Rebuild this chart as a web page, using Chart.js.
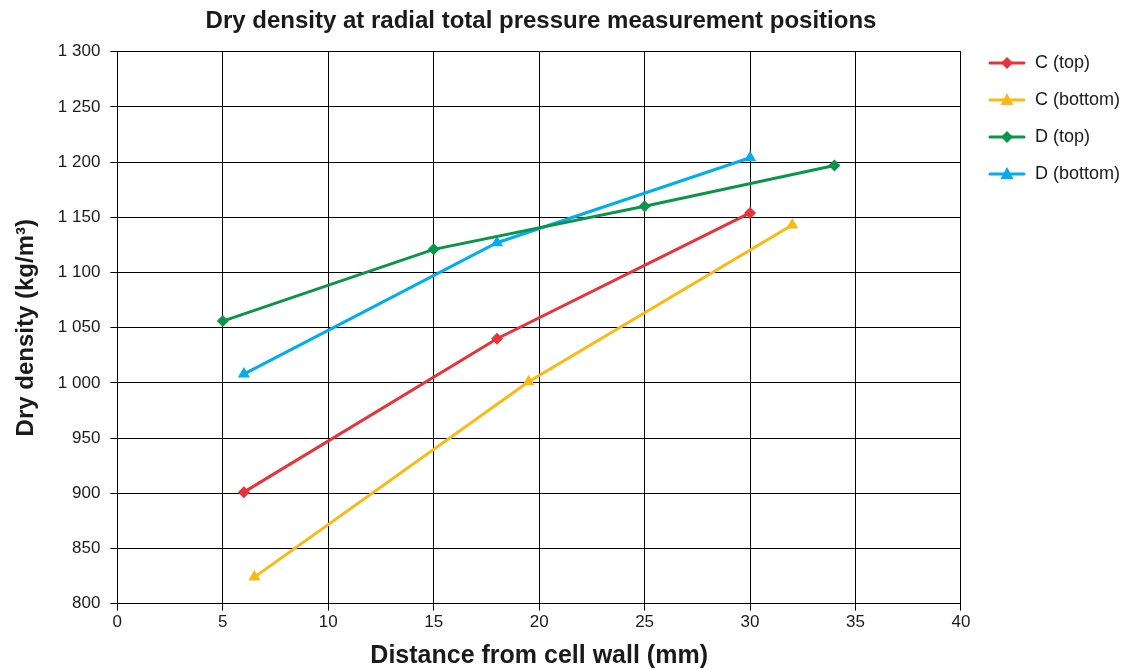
<!DOCTYPE html>
<html>
<head>
<meta charset="utf-8">
<script src="https://cdn.jsdelivr.net/npm/chart.js@4"></script>
<style>
  html, body { margin: 0; padding: 0; background: #fff; }
  #wrap { width: 1122px; height: 670px; }
</style>
</head>
<body>
<div id="wrap"><canvas id="chart" width="1122" height="670"></canvas></div>
<script>
// Dry density at radial total pressure measurement positions

/* ---------------- DATA ---------------- */
const cTopX = [6, 18, 30];
const cTopY = [901, 1040, 1154];
const cBottomX = [6.5, 19.5, 32];
const cBottomY = [824, 1001, 1143];
const dTopX = [5, 15, 25, 34];
const dTopY = [1056, 1121, 1160, 1197];
const dBottomX = [6, 18, 30];
const dBottomY = [1008, 1127, 1204];

const seriesNames = ["C (top)", "C (bottom)", "D (top)", "D (bottom)"];
const xTicks = [0, 5, 10, 15, 20, 25, 30, 35, 40];
const yTicks = [800, 850, 900, 950, 1000, 1050, 1100, 1150, 1200, 1250, 1300];

const FONT = "Arial, 'Liberation Sans', Helvetica, sans-serif";
const INK = "#1a1a1a";

/* ---------------- HELPERS ---------------- */
function toPoints(xs, ys) {
  return xs.map((x, i) => ({ x: x, y: ys[i] }));
}

function fmtThousands(v) {
  const s = String(v);
  return s.length > 3 ? s.slice(0, s.length - 3) + " " + s.slice(-3) : s;
}

// legend symbol: short line with marker in the middle
function legendIcon(color, style) {
  const c = document.createElement("canvas");
  c.width = 38; c.height = 16;
  const g = c.getContext("2d");
  g.strokeStyle = color;
  g.lineWidth = 3;
  g.lineCap = "round";
  g.beginPath(); g.moveTo(2, 8); g.lineTo(36, 8); g.stroke();
  g.fillStyle = color;
  g.beginPath();
  if (style === "tri") {
    g.moveTo(19, 1); g.lineTo(25.5, 13); g.lineTo(12.5, 13);
  } else {
    g.moveTo(19, 2); g.lineTo(25, 8); g.lineTo(19, 14); g.lineTo(13, 8);
  }
  g.closePath(); g.fill();
  return c;
}

function makeSet(label, xs, ys, color, marker) {
  return {
    label: label,
    data: toPoints(xs, ys),
    borderColor: color,
    backgroundColor: color,
    borderWidth: 3,
    pointStyle: marker === "tri" ? "triangle" : "rectRot",
    pointRadius: marker === "tri" ? 7 : 6,
    pointBorderWidth: 0,
    tension: 0,
    legendIcon: legendIcon(color, marker)
  };
}

// legend level with the top gridline, title centred over the plot area
const layoutTweaks = {
  id: "layoutTweaks",
  afterLayout(chart) {
    if (chart.legend) {
      chart.legend.top += 33;
      chart.legend.left += 8;
    }
    if (chart.titleBlock) {
      chart.titleBlock.left -= 26;
      chart.titleBlock.right -= 26;
    }
  }
};

/* ---------------- CHART ---------------- */
const datasets = [
  makeSet(seriesNames[0], cTopX, cTopY, "#E8333A", "dia"),
  makeSet(seriesNames[1], cBottomX, cBottomY, "#FDB913", "tri"),
  makeSet(seriesNames[2], dTopX, dTopY, "#0A9548", "dia"),
  makeSet(seriesNames[3], dBottomX, dBottomY, "#00AEEF", "tri")
];

new Chart(document.getElementById("chart"), {
  type: "line",
  data: { datasets },
  plugins: [layoutTweaks],
  options: {
    responsive: false,
    animation: false,
    layout: { padding: { left: 12, right: 0, top: 2, bottom: 3 } },
    plugins: {
      title: {
        display: true,
        text: "Dry density at radial total pressure measurement positions",
        color: INK,
        font: { family: FONT, size: 24, weight: "bold" },
        padding: { top: 5, bottom: 16 }
      },
      legend: {
        position: "right",
        align: "start",
        labels: {
          usePointStyle: true,
          pointStyleWidth: 38,
          color: INK,
          padding: 19,
          font: { family: FONT, size: 18 },
          generateLabels(chart) {
            return chart.data.datasets.map((ds, i) => ({
              text: ds.label,
              pointStyle: ds.legendIcon,
              fillStyle: ds.borderColor,
              strokeStyle: ds.borderColor,
              lineWidth: 0,
              fontColor: INK,
              hidden: false,
              datasetIndex: i
            }));
          }
        }
      },
      tooltip: { enabled: false }
    },
    scales: {
      x: {
        type: "linear",
        min: 0,
        max: 40,
        afterBuildTicks(axis) { axis.ticks = xTicks.map(v => ({ value: v })); },
        grid: { color: "#000", lineWidth: 1, tickLength: 7, drawTicks: true },
        border: { color: "#000", width: 1 },
        ticks: { color: INK, font: { family: FONT, size: 17 }, padding: 2 },
        title: {
          display: true,
          text: "Distance from cell wall (mm)",
          color: INK,
          font: { family: FONT, size: 25, weight: "bold" },
          padding: { top: 6, bottom: -4 }
        }
      },
      y: {
        type: "linear",
        min: 800,
        max: 1300,
        afterBuildTicks(axis) { axis.ticks = yTicks.map(v => ({ value: v })); },
        grid: { color: "#000", lineWidth: 1, tickLength: 7, drawTicks: true },
        border: { color: "#000", width: 1 },
        ticks: {
          color: INK,
          font: { family: FONT, size: 17 },
          padding: 10,
          callback: v => fmtThousands(v)
        },
        title: {
          display: true,
          text: "Dry density (kg/m³)",
          color: INK,
          font: { family: FONT, size: 24, weight: "bold" },
          padding: { top: 0, bottom: 7 }
        }
      }
    }
  }
});
</script>
</body>
</html>
